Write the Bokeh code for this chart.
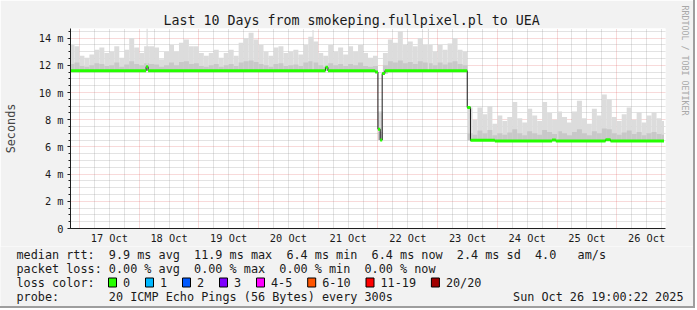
import numpy as np
from bokeh.plotting import figure
from bokeh.layouts import column
from bokeh.models import Range1d, FixedTicker, Title
from bokeh.core.properties import value
from bokeh.embed import file_html
from bokeh.resources import INLINE

# ---------------- data (time in hours since 17 Oct 2025 00:00) ----------------
title_text = "Last 10 Days from smokeping.fullpixel.pl to UEA"
x_start, x_end = -3.6, 235.6
data_end = 235.0
bin_start, bin_hours = -4.0, 2.0

smoke_max = [13.5, 13.4, 12.7, 12.55, 12.8, 13.15, 13.3, 12.9, 13.0, 13.4,
             12.55, 13.15, 14.0, 13.3, 12.9, 13.4, 13.4, 13.3, 12.45, 13.0,
             13.5, 13.0, 13.65, 13.9, 13.4, 13.4, 12.9, 12.7, 12.9, 13.15,
             12.55, 12.9, 13.15, 12.7, 13.65, 14.0, 14.4, 13.9, 13.5, 13.0,
             12.7, 13.3, 13.4, 12.9, 13.0, 13.15, 12.8, 13.5, 14.1, 13.75,
             12.9, 12.7, 13.5, 13.0, 13.3, 12.8, 13.4, 13.0, 13.5, 12.9,
             12.55, 12.7, 8.6, 12.9, 13.9, 13.65, 14.5, 13.5, 13.75, 13.4,
             14.0, 13.5, 13.5, 13.0, 13.5, 13.15, 13.6, 14.0, 13.15, 13.0,
             8.9, 8.0, 8.9, 8.4, 9.0, 7.7, 8.3, 7.9, 8.2, 9.3,
             8.1, 7.8, 8.8, 8.3, 7.9, 9.3, 8.5, 8.0, 8.6, 8.2,
             7.8, 8.6, 9.4, 8.1, 7.7, 8.8, 8.3, 9.85, 9.5, 8.2,
             7.9, 8.4, 8.9, 8.0, 8.55, 7.8, 8.3, 8.55, 8.1, 7.9]

smoke_mid = [12.1, 12.2, 11.95, 11.9, 12.0, 12.15, 12.1, 11.95, 12.0, 12.2,
             11.9, 12.05, 12.3, 12.1, 12.0, 12.15, 12.1, 12.05, 11.9, 12.0,
             12.2, 12.0, 12.25, 12.3, 12.1, 12.15, 11.95, 11.9, 12.0, 12.1,
             11.9, 12.0, 12.1, 11.95, 12.2, 12.3, 12.35, 12.25, 12.1, 12.0,
             11.9, 12.1, 12.15, 11.95, 12.0, 12.05, 11.95, 12.2, 12.3, 12.2,
             12.0, 11.9, 12.15, 12.0, 12.1, 11.95, 12.1, 12.0, 12.2, 11.95,
             11.9, 11.95, 7.1, 12.0, 12.3, 12.2, 12.35, 12.15, 12.25, 12.1,
             12.3, 12.2, 12.15, 12.0, 12.2, 12.05, 12.2, 12.3, 12.1, 12.0,
             7.0, 6.9, 7.2, 7.0, 7.25, 6.85, 7.0, 6.9, 7.05, 7.3,
             7.0, 6.85, 7.15, 7.0, 6.9, 7.25, 7.1, 6.95, 7.15, 7.0,
             6.85, 7.1, 7.3, 7.0, 6.85, 7.15, 7.0, 7.35, 7.3, 7.0,
             6.9, 7.05, 7.2, 6.95, 7.1, 6.85, 7.0, 7.1, 6.95, 6.9]

spike_t = [27.2, 93.9, 140.3, 192.3]
spike_v = [14.7, 14.6, 14.7, 9.95]

# median rtt (ms) as steps: value med_v[i] holds from med_t[i] to med_t[i+1]
med_t = [-3.6, 26.8, 27.6, 98.9, 99.9, 118.9, 120.0, 120.9, 121.7, 122.8,
         155.9, 157.2, 167.0, 190.0, 191.5, 211.5, 213.5, 235.0]
med_v = [11.6, 11.9, 11.6, 11.85, 11.6, 11.5, 7.3, 6.5, 11.4, 11.6,
         8.9, 6.48, 6.43, 6.5, 6.43, 6.52, 6.43]

day_labels = ["17 Oct", "18 Oct", "19 Oct", "20 Oct", "21 Oct",
              "22 Oct", "23 Oct", "24 Oct", "25 Oct", "26 Oct"]
y_ticks = [0, 2, 4, 6, 8, 10, 12, 14]
y_labels = ["0", "2 m", "4 m", "6 m", "8 m", "10 m", "12 m", "14 m"]

legend_rows = ["median rtt:  9.9 ms avg  11.9 ms max  6.4 ms min  6.4 ms now  2.4 ms sd  4.0   am/s",
               "packet loss: 0.00 % avg  0.00 % max  0.00 % min  0.00 % now",
               "loss color:",
               "probe:       20 ICMP Echo Pings (56 Bytes) every 300s"]
loss_labels = ["0", "1", "2", "3", "4-5", "6-10", "11-19", "20/20"]
loss_colors = ["#26ff00", "#00b8ff", "#0059ff", "#7e00ff", "#ff00ff", "#ff5500", "#ff0000", "#a10000"]
date_text = "Sun Oct 26 19:00:22 2025"
watermark = "RRDTOOL / TOBI OETIKER"

# ---------------- styling constants ----------------
MONO = "DejaVu Sans Mono"
BG = "#f2f2f2"
SHADE = "#9e9e9e"
W, H_TOP, H_LEG = 697, 246, 64
FL, FR, FT, FB = 67, 665, 28, 228   # frame edges in canvas pixels

def nb(s):
    return s.replace(" ", "\u00a0")

# ---------------- derived geometry ----------------
n = len(smoke_max)
left = np.array([bin_start + k * bin_hours for k in range(n)])
right = np.minimum(left + bin_hours, data_end)
med_t_a = np.array(med_t)
med_v_a = np.array(med_v)

def med_at(t):
    i = np.searchsorted(med_t_a, t, side="right") - 1
    return med_v_a[min(max(i, 0), len(med_v_a) - 1)]

bottom = []
for l, r in zip(left, right):
    ov = [v for a, b, v in zip(med_t_a[:-1], med_t_a[1:], med_v_a)
          if min(b, r) - max(a, l) > 0.5]
    bottom.append(min(ov) if ov else med_at((l + r) / 2))
bottom = np.array(bottom)

y_top = 14.706
p = figure(width=W - 2, height=H_TOP, output_backend="svg", toolbar_location=None,
           x_range=Range1d(x_start, x_end), y_range=Range1d(0, y_top),
           min_border_left=FL, min_border_right=W - 2 - FR,
           min_border_top=FT, min_border_bottom=H_TOP - FB,
           frame_align=False)
p.styles = {"border-right": "2px solid " + SHADE}
p.background_fill_color = "white"
p.border_fill_color = BG
p.outline_line_color = None

# grid
midnights = [24 * d for d in range(10)]
six_h = [h for h in range(0, 236, 6) if h % 24 != 0]
p.xgrid.ticker = FixedTicker(ticks=midnights, minor_ticks=six_h)
halfs = [i * 0.5 for i in range(0, 30) if i % 4 != 0]
p.ygrid.ticker = FixedTicker(ticks=y_ticks[1:], minor_ticks=halfs)
for g in (p.xgrid, p.ygrid):
    g.grid_line_color = "#de4f4f"
    g.grid_line_alpha = 0.42
    g.grid_line_dash = "1 1"
    g.minor_grid_line_color = "#8f8f8f"
    g.minor_grid_line_alpha = 0.5
    g.minor_grid_line_dash = "1 1"

# smoke
p.quad(left=left, right=right, bottom=bottom, top=smoke_max,
       fill_color="#dcdcdc", line_color=None)
p.quad(left=left, right=right, bottom=bottom, top=smoke_mid,
       fill_color="#c8c8c8", line_color=None)
spike_base = [med_at(t) for t in spike_t]
p.vbar(x=spike_t, width=0.45, bottom=spike_base, top=spike_v,
       fill_color="#dcdcdc", line_color=None)

# median
p.step(x=med_t, y=med_v + [med_v[-1]], mode="after", line_color="#1a1a1a", line_width=1)
p.segment(x0=med_t[:-1], x1=med_t[1:], y0=med_v, y1=med_v,
          line_color="#26ff00", line_width=3)

# axes
xa = p.xaxis[0]
noon = [24 * d + 12 for d in range(len(day_labels))]
xa.ticker = FixedTicker(ticks=noon, minor_ticks=[])
xa.major_label_overrides = {t: s for t, s in zip(noon, day_labels)}
xa.major_tick_line_color = None
xa.minor_tick_line_color = None
xa.major_tick_out = 0
xa.major_tick_in = 0
xa.minor_tick_out = 0
xa.minor_tick_in = 0
xa.major_label_standoff = 3
xa.axis_line_color = "#1f1f1f"
xa.major_label_text_font = MONO
xa.major_label_text_font_size = "10.3px"
xa.major_label_text_color = "#1a1a1a"

ya = p.yaxis[0]
ya.ticker = FixedTicker(ticks=y_ticks, minor_ticks=[i * 0.5 for i in range(0, 30)])
ya.major_label_overrides = {t: s for t, s in zip(y_ticks, y_labels)}
ya.major_tick_out = 3
ya.major_tick_in = 0
ya.minor_tick_out = 2
ya.minor_tick_in = 0
ya.major_tick_line_color = "#1f1f1f"
ya.minor_tick_line_color = "#1f1f1f"
ya.axis_line_color = "#1f1f1f"
ya.major_label_standoff = 4
ya.major_label_text_font = MONO
ya.major_label_text_font_size = "10.3px"
ya.major_label_text_color = "#1a1a1a"
ya.axis_label = "Seconds"
ya.axis_label_text_font = MONO
ya.axis_label_text_font_size = "11.8px"
ya.axis_label_text_font_style = "normal"
ya.axis_label_standoff = 18

# title & watermark (a blank spacer title pushes the watermark to the edge)
p.title = Title(text=title_text, align="left", offset=160 - FL, standoff=1,
                text_font=MONO, text_font_size="13.3px", text_font_style="normal",
                text_color="#1a1a1a")
p.add_layout(Title(text="\u00a0", standoff=0, text_font=MONO, text_font_size="9px"), "right")
p.add_layout(Title(text=watermark, align="left", vertical_align="top", standoff=0,
                   offset=-23,
                   text_font=MONO, text_font_size="8.3px", text_font_style="normal",
                   text_color="#a8a8a8"), "right")

# ---------------- legend strip ----------------
q = figure(width=W - 2, height=H_LEG - 2, output_backend="svg", toolbar_location=None,
           x_range=Range1d(0, W - 2), y_range=Range1d(H_TOP + H_LEG - 2, H_TOP),
           min_border=0, frame_align=False,
           x_axis_location=None, y_axis_location=None)
q.styles = {"border-right": "2px solid " + SHADE, "border-bottom": "2px solid " + SHADE}
q.grid.visible = False
q.outline_line_color = None
q.background_fill_color = BG
q.border_fill_color = BG

row_y = [254, 268, 282, 296]
char_w = 7.1
q.text(x=[16] * 4, y=row_y, text=[nb(s) for s in legend_rows], text_font=value(MONO),
       text_font_size="11.8px", text_baseline="middle", text_color="#1a1a1a")
bx, tx = [], []
cur = 108.0
for lab in loss_labels:
    bx.append(cur)
    tx.append(cur + 14.5)
    cur = cur + 14.5 + len(lab) * char_w + 15.4
q.rect(x=[b + 4 for b in bx], y=[row_y[2]] * len(bx), width=8, height=9,
       fill_color=loss_colors, line_color="black", line_width=1)
q.text(x=tx, y=[row_y[2]] * len(tx), text=loss_labels, text_font=value(MONO),
       text_font_size="11.8px", text_baseline="middle", text_color="#1a1a1a")
q.text(x=[683], y=[row_y[3]], text=[date_text], text_font=value(MONO),
       text_font_size="11.8px", text_baseline="middle", text_align="right",
       text_color="#1a1a1a")

layout = column(p, q, spacing=0)
open("out.html", "w").write(file_html(layout, INLINE))
